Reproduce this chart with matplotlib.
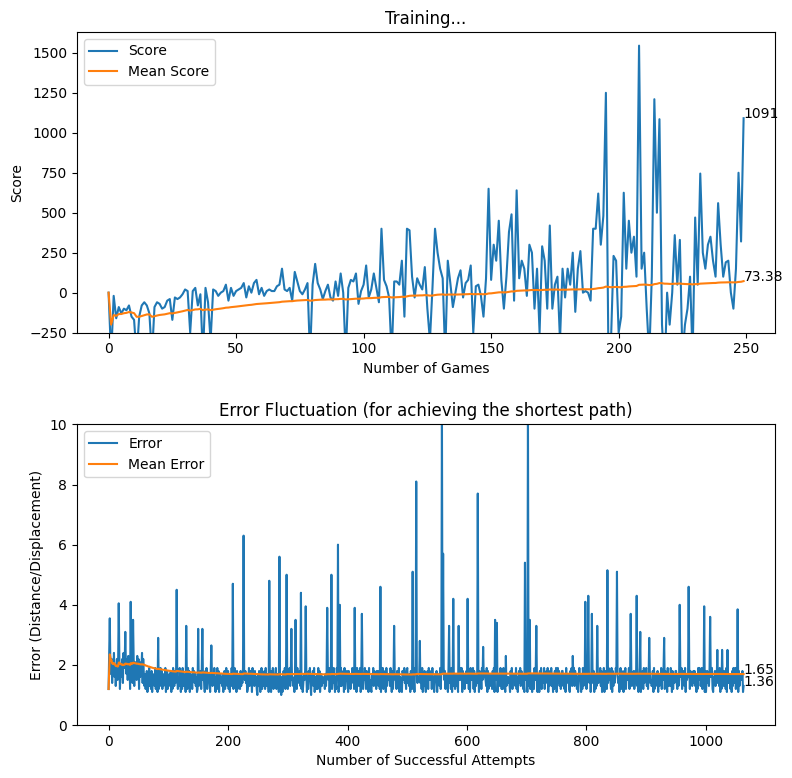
import numpy as np
import matplotlib
matplotlib.use("Agg")
import matplotlib.pyplot as plt

# --- top panel: score per game (clipped lows ~ -400)
scores = [
    0, -400, -20, -160, -90, -130, -100, -110, -80, -150,
    -170, -400, -150, -80, -60, -80, -130, -400, -90, -60,
    -70, -100, -90, -50, -40, -170, -30, -40, -30, -10,
    20, 10, -250, 10, 30, -80, -10, -400, 30, -60,
    -300, 20, 10, -20, 0, 10, 50, -50, 30, -20,
    10, 20, 30, 60, -30, 40, 0, 60, 80, -10,
    30, -20, 10, 20, 10, 10, 40, 50, 150, 20,
    10, 30, -50, 130, 70, 10, -10, 20, 60, -400,
    50, 180, 60, 20, -40, 10, 50, -30, -50, 70,
    -20, 120, 0, -400, 30, 80, 70, 120, -70, 10,
    50, 170, -30, 20, 120, 30, -60, 400, 80, 40,
    -30, -400, 70, 70, 50, 200, -150, 400, 390, 100,
    -30, 90, 50, 20, 160, -100, -300, 30, 400, 250,
    150, 90, -400, 200, 60, -90, 0, 90, 140, -30,
    60, 80, 170, -250, 40, 50, -20, -150, 90, 650,
    80, 300, 200, 450, 80, -100, 100, 380, 490, -50,
    640, 90, 200, 150, -20, 300, 250, -100, 150, -250,
    290, 200, -100, 420, -100, 50, 100, -300, 150, -30,
    150, 50, 250, -120, 150, 260, 0, 10, 0, -50,
    400, 400, 620, 300, 480, 1250, -400, -300, 230, 200,
    -250, -150, 625, 150, 450, 250, 350, 100, 1545, 150,
    250, -100, -400, 100, 1210, 500, 1085, -200, -500, 0,
    -200, 0, 360, 50, 330, -400, -200, -100, 100, -400,
    470, 50, 745, 250, 150, 300, 350, 200, 100, 560,
    300, 100, 190, 200, 0, -100, 150, 750, 320, 1091,
]
score_labels = ["1091", "73.38"]

# --- bottom panel: error per attempt, baseline noise as tenths (hex digit -> +d/10)
error_base = (
    "2d9a7c4b8e 6a39c5b7d2 8a6c4e9b3a 7c5d8b2a6e 49c3b7a5d8 c2b6a9e4c7"
    "3725814693 5281746392 4817263958 2736491582 6374815296 3847152639"
    "5182937461 4729381756 2958473612 7364829157 4183926574 1827364951"
    "6392817456 3714825963 8261739452 5947182637 2836491758 4712593846"
    "1957384620 7384159263 5829374618 3618492757 9274618350 6158392748"
    "2849371563 5173829465 8392614758 3716285940 7483915627 2958147364"
    "4627381959 1836274951 6295814739 3748192658 5183627495 8274619358"
    "3916482759 6284719352 1759384628 4837261959 2648193756 7395182647"
    "5728349162 3187594628 9463718256 2519837465 6847291538 4173829657"
    "8293614758 1765392847 3958274619 7482915637 2637418596 5918372648"
    "4362819575 9281736458 1847295368 6539182747 3728491659 8164739528"
    "2975183646 5418392767 7392615849 3867241958 9146382751 4729583617"
    "6183927459 2758491638 4936172859 1594837268 8372619457 5218493769"
    "3847261595 7162938475 2593847168 9481726357 4759381629 1836274958"
    "5291837469 8374615928 3618492757 6927183548 2485937169 7153829468"
    "9372618453 4819273658 1736492859 5284719367 3961827458 8427351969"
    "2648391756 6192847358 4837162959 7359284618 1584739267 9216483759"
    "4739162858 3582917464 7261839459 2947183567 5813"
)
spike_idx = [0, 2, 17, 28, 37, 41, 83, 114, 130, 150, 157, 172, 208, 226,
             269, 286, 298, 306, 313, 322, 330, 366, 373, 384, 387, 412,
             424, 455, 478, 509, 515, 521, 558, 560, 570, 577, 586, 601,
             618, 627, 647, 650, 665, 697, 702, 705, 716, 777, 798, 803,
             809, 818, 835, 851, 874, 884, 890, 905, 930, 956, 971, 997,
             1007, 1019, 1027, 1036, 1053]
spike_val = [1.2, 3.55, 4.05, 3.1, 4.1, 3.5, 2.9, 4.5, 3.3, 3.2, 3.2, 2.65,
             4.7, 6.3, 4.8, 5.6, 5.0, 3.2, 3.5, 4.4, 3.95, 3.9, 5.0, 6.0,
             4.0, 3.9, 3.7, 4.6, 3.3, 5.1, 8.1, 2.8, 10.5, 5.7, 3.3, 4.2,
             3.3, 4.2, 7.7, 2.6, 3.5, 3.4, 2.3, 5.4, 10.5, 3.5, 3.3, 2.3,
             4.1, 4.3, 3.7, 3.3, 5.15, 5.1, 3.7, 4.3, 3.1, 2.9, 2.9, 4.0,
             4.6, 3.95, 3.6, 2.5, 2.5, 2.5, 3.85]
error_labels = ["1.65", "1.36"]

digits = error_base.replace(" ", "")
errors = np.array([1.0 + int(c, 16) / 10 for c in digits])
for i, v in zip(spike_idx, spike_val):
    if i < len(errors):
        errors[i] = v

scores = np.array(scores, dtype=float)
mean_scores = np.cumsum(scores) / np.arange(1, len(scores) + 1)
mean_errors = np.cumsum(errors) / np.arange(1, len(errors) + 1)

fig, (ax1, ax2) = plt.subplots(2, 1, figsize=(7.92, 7.78), dpi=100)
fig.subplots_adjust(left=0.097, right=0.979, top=0.959, bottom=0.068, hspace=0.305)

ax1.set_title("Training...")
ax1.set_xlabel("Number of Games")
ax1.set_ylabel("Score")
ax1.plot(scores, label="Score")
ax1.plot(mean_scores, label="Mean Score")
ax1.set_ylim(-250, 1631)
ax1.text(len(scores) - 1, scores[-1], score_labels[0])
ax1.text(len(scores) - 1, mean_scores[-1], score_labels[1])
ax1.legend(loc="upper left")

ax2.set_title("Error Fluctuation (for achieving the shortest path)")
ax2.set_xlabel("Number of Successful Attempts")
ax2.set_ylabel("Error (Distance/Displacement)")
ax2.plot(errors, label="Error")
ax2.plot(mean_errors, label="Mean Error")
ax2.set_ylim(0, 10)
ax2.text(len(errors) - 1, mean_errors[-1], error_labels[0])
ax2.text(len(errors) - 1, errors[-1], error_labels[1])
ax2.legend(loc="upper left")

fig.savefig("out.png", dpi=100)
